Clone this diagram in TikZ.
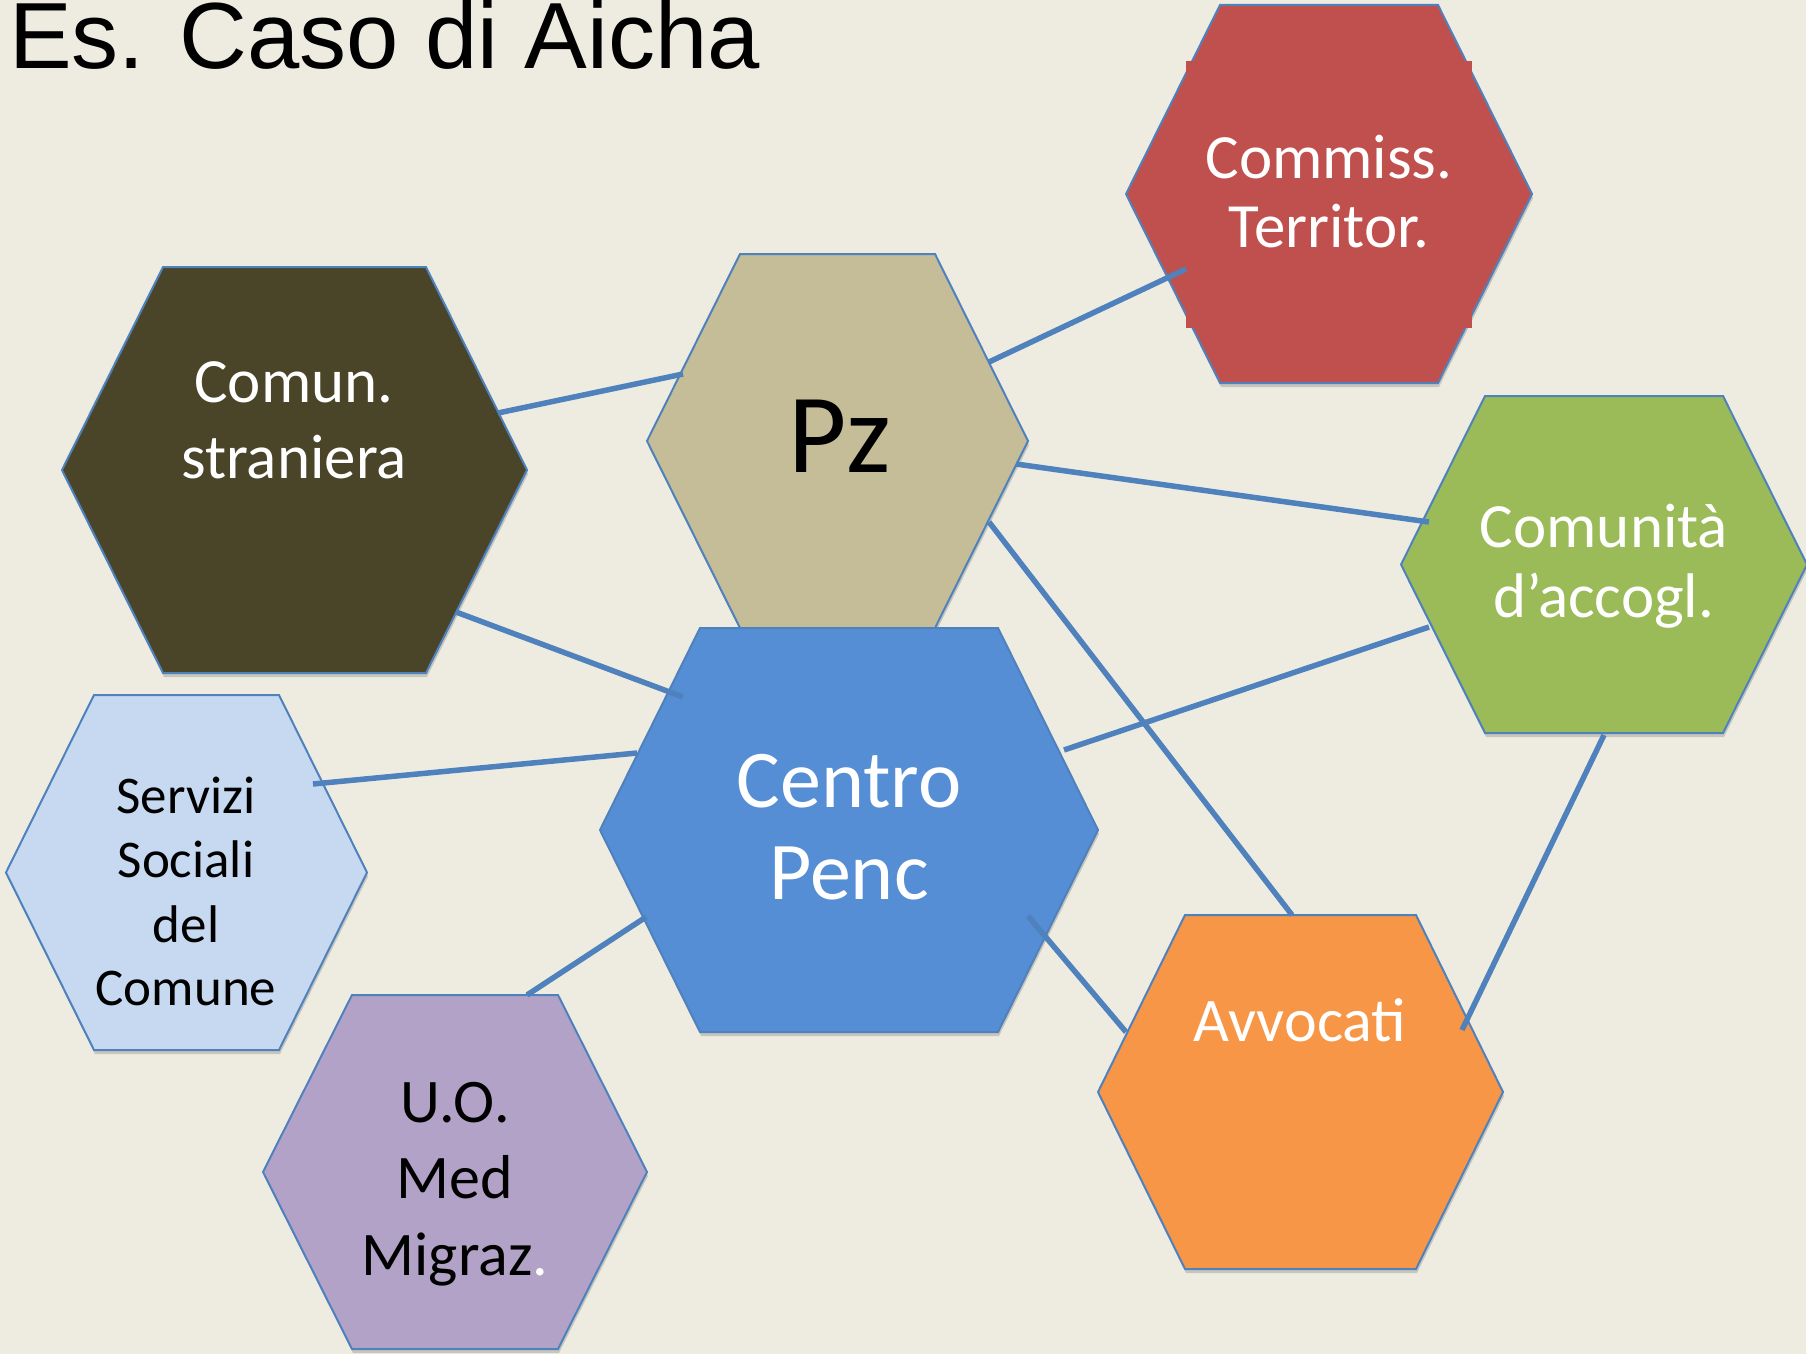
\documentclass[tikz,border=0pt]{standalone}
\usepackage{fontspec}
\setmainfont{Carlito}
\newfontfamily\titlefont{Liberation Sans}
\newfontfamily\calfont{Carlito}
\definecolor{bgc}{HTML}{EEECE1}
\definecolor{linec}{HTML}{4F81BD}
\definecolor{comunc}{HTML}{4A4529}
\definecolor{pzc}{HTML}{C4BD97}
\definecolor{redc}{HTML}{C0504D}
\definecolor{greenc}{HTML}{9BBB59}
\definecolor{centroc}{HTML}{558ED5}
\definecolor{servc}{HTML}{C6D9F1}
\definecolor{uoc}{HTML}{B3A2C7}
\definecolor{avvc}{HTML}{F79646}
\tikzset{
  hexline/.style={draw=linec,line width=2pt,line join=miter},
  shadowc/.style={fill=black,opacity=.16},
  conn/.style={draw=linec,line width=5.5pt},
  lab/.style={inner sep=0pt,anchor=base,font=\calfont\fontsize{63}{76}\selectfont},
  wlab/.style={lab,text=white},
  blab/.style={lab,text=black},
}
\newcommand\hexa[6]{%
  \pgfmathsetmacro\hexmid{(#3+#4)/2}%
  \fill[shadowc] ({#1+1},{\hexmid+4}) -- ({#1+#5+1},{#3+4}) -- ({#2-#5+1},{#3+4}) -- ({#2+1},{\hexmid+4}) -- ({#2-#5+1},{#4+4}) -- ({#1+#5+1},{#4+4}) -- cycle;
  \path[hexline,fill=#6] (#1,\hexmid) -- ({#1+#5},#3) -- ({#2-#5},#3) -- (#2,\hexmid) -- ({#2-#5},#4) -- ({#1+#5},#4) -- cycle;
}
\begin{document}
\begin{tikzpicture}[x=1pt,y=-1pt]
\fill[bgc] (0,0) rectangle (1806,1354);
\useasboundingbox (0,0) rectangle (1806,1354);
% title
\node[inner sep=0pt,anchor=base west,font=\titlefont\fontsize{94}{110}\selectfont] (title) at (9,68) {Es. Caso di Aicha};
% hexagons
\hexa{1126}{1532}{5}{383}{94}{redc}
\fill[redc] (1186,61) rectangle (1472,328);
\hexa{62}{527}{267}{673}{101}{comunc}
\hexa{647}{1028}{254}{628}{93}{pzc}
\hexa{1401}{1807}{396}{733}{84}{greenc}
\hexa{600}{1098}{628}{1032}{100}{centroc}
\hexa{6}{367}{695}{1050}{88}{servc}
\hexa{263}{647}{995}{1349}{89}{uoc}
\hexa{1098}{1503}{915}{1269}{87}{avvc}
% labels
\node[wlab] (commiss1) at (1329,178) {Commiss.};
\node[wlab] (commiss2) at (1329,247) {Territor.};
\node[wlab] (comun1) at (294,402) {Comun.};
\node[wlab] (comun2) at (294,478) {straniera};
\node[blab,font=\calfont\fontsize{113}{130}\selectfont] (pz) at (840,472) {Pz};
\node[wlab] (comunita1) at (1604,547) {Comunità};
\node[wlab] (comunita2) at (1604,617) {d’accogl.};
\node[wlab,font=\calfont\fontsize{82}{92}\selectfont] (centro1) at (849,807) {Centro};
\node[wlab,font=\calfont\fontsize{82}{92}\selectfont] (centro2) at (849,899) {Penc};
\node[blab,font=\calfont\fontsize{53}{64}\selectfont] (serv1) at (186,813) {Servizi};
\node[blab,font=\calfont\fontsize{53}{64}\selectfont] (serv2) at (186,877) {Sociali};
\node[blab,font=\calfont\fontsize{53}{64}\selectfont] (serv3) at (186,942) {del};
\node[blab,font=\calfont\fontsize{53}{64}\selectfont] (serv4) at (186,1005) {Comune};
\node[blab,font=\calfont\fontsize{62}{76}\selectfont] (uo1) at (455,1122) {U.O.};
\node[blab,font=\calfont\fontsize{62}{76}\selectfont] (uo2) at (455,1198) {Med};
\node[blab,font=\calfont\fontsize{62}{76}\selectfont] (uo3) at (455,1275) {Migraz\textcolor{white}{.}};
\node[wlab,font=\calfont\fontsize{62}{76}\selectfont] (avv1) at (1300,1041) {Avvocati};
% connector end points
\coordinate (comunA) at (498,413);
\coordinate (pzA) at (683,374);
\coordinate (comunB) at (456,612);
\coordinate (centroA) at (683,697);
\coordinate (pzB) at (989,362);
\coordinate (commissA) at (1186,269);
\coordinate (pzC) at (1016,464);
\coordinate (comunitaA) at (1429,522);
\coordinate (pzD) at (989,522);
\coordinate (avvA) at (1292,915);
\coordinate (centroB) at (1064,750);
\coordinate (comunitaB) at (1429,627);
\coordinate (servA) at (313,784);
\coordinate (centroC) at (637,753);
\coordinate (uoA) at (527,995);
\coordinate (centroD) at (646,917);
\coordinate (centroE) at (1028,916);
\coordinate (avvB) at (1126,1032);
\coordinate (comunitaC) at (1604,735);
\coordinate (avvC) at (1462,1030);
% connectors
\draw[conn] (comunA) -- (pzA);
\draw[conn] (comunB) -- (centroA);
\draw[conn] (pzB) -- (commissA);
\draw[conn] (pzC) -- (comunitaA);
\draw[conn] (pzD) -- (avvA);
\draw[conn] (centroB) -- (comunitaB);
\draw[conn] (servA) -- (centroC);
\draw[conn] (uoA) -- (centroD);
\draw[conn] (centroE) -- (avvB);
\draw[conn] (comunitaC) -- (avvC);
\end{tikzpicture}
\end{document}
